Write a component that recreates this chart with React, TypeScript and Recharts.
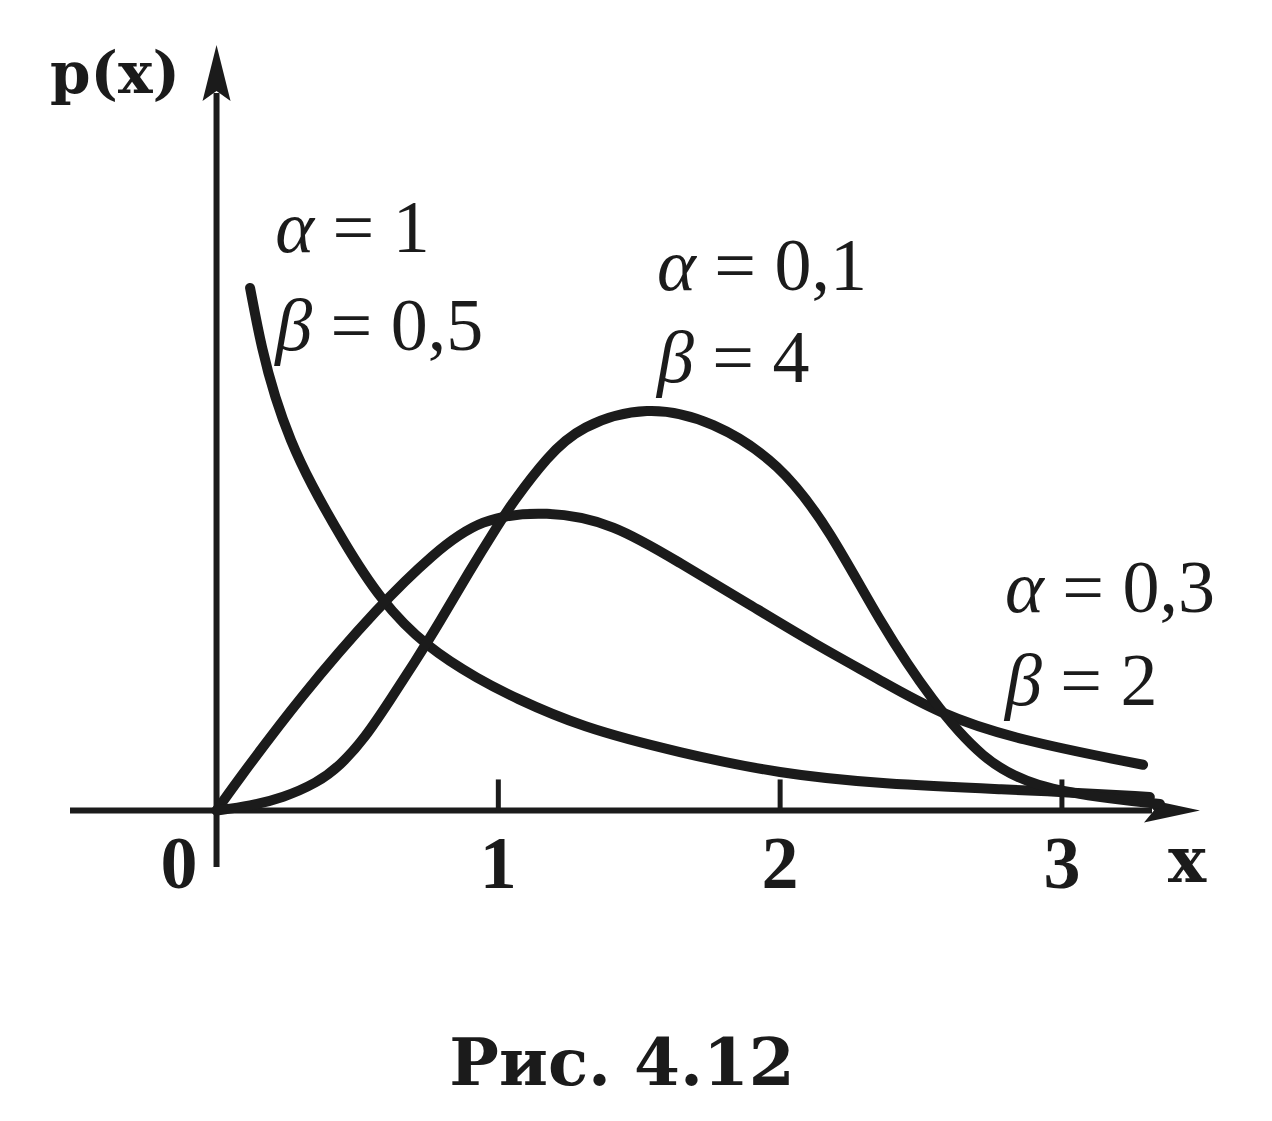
import React from 'react';
import { LineChart, Line, XAxis, YAxis, ReferenceLine, ReferenceDot } from 'recharts';

// Curve α = 1, β = 0,5
const curveAX = [0.119, 0.161, 0.208, 0.261, 0.332, 0.449, 0.58, 0.747, 0.935, 1.052, 1.29, 1.645, 1.999, 2.355, 2.84, 2.993, 3.312];
const curveAY = [1.85, 1.63, 1.46, 1.312, 1.16, 0.954, 0.746, 0.576, 0.462, 0.402, 0.296, 0.204, 0.13, 0.094, 0.073, 0.066, 0.048];

// Curve α = 0,3, β = 2
const curveBX = [0, 0.059, 0.296, 0.58, 0.768, 0.935, 1.173, 1.407, 1.645, 1.882, 2.116, 2.355, 2.557, 2.84, 3.288];
const curveBY = [0, 0.084, 0.402, 0.728, 0.908, 1.036, 1.062, 1.018, 0.876, 0.735, 0.593, 0.462, 0.346, 0.25, 0.162];

// Curve α = 0,1, β = 4
const curveCX = [0, 0.119, 0.236, 0.357, 0.438, 0.527, 0.616, 0.704, 0.793, 0.889, 1.006, 1.052, 1.173, 1.29, 1.528, 1.762, 1.999, 2.177, 2.355, 2.543, 2.72, 2.897, 3.195, 3.348];
const curveCY = [0, 0.016, 0.045, 0.098, 0.158, 0.257, 0.391, 0.526, 0.668, 0.834, 1.022, 1.092, 1.252, 1.362, 1.436, 1.38, 1.23, 0.993, 0.664, 0.381, 0.179, 0.083, 0.038, 0.023];

const tickValues = [0, 1, 2, 3];
const tickLabels = ['0', '1', '2', '3'];

const alphaValues = ['1', '0,1', '0,3'];
const betaValues = ['0,5', '4', '2'];

const xDomain = [-0.52, 3.49];
const yDomain = [-1, 2.71];

// layout anchors (data coordinates) for text
const paramAnchorsX = [0.208, 1.563, 2.798];
const alphaAnchorsY = [1.977, 1.843, 0.703];
const betaAnchorsY = [1.63, 1.517, 0.374];
const tickLabelY = -0.274;
const zeroLabelShift = -0.133;

const INK = '#1b1b1b';
const SERIF = '"Liberation Serif", "Times New Roman", serif';
const BOLD_SERIF = '"DejaVu Serif", serif';

const toPoints = (xs: number[], ys: number[]) => xs.map((x, i) => ({ x, y: ys[i] }));
const dataA = toPoints(curveAX, curveAY);
const dataB = toPoints(curveBX, curveBY);
const dataC = toPoints(curveCX, curveCY);

const arrowRight = (props: any) => {
  const { x1, y1, x2 } = props;
  const tip = Math.max(x1, x2);
  const start = Math.min(x1, x2);
  const y = y1;
  const L = 56;
  const W = 12;
  return (
    <g>
      <line x1={start} y1={y} x2={tip - L + 8} y2={y} stroke={INK} strokeWidth={6} />
      <path d={`M${tip},${y} L${tip - L},${y - W} L${tip - L + 10},${y} L${tip - L},${y + W} Z`} fill={INK} />
    </g>
  );
};

const arrowUp = (props: any) => {
  const { x1, y1, y2 } = props;
  const tip = Math.min(y1, y2);
  const start = Math.max(y1, y2);
  const x = x1;
  const L = 56;
  const W = 14;
  return (
    <g>
      <line x1={x} y1={start} x2={x} y2={tip + L - 8} stroke={INK} strokeWidth={6} />
      <path d={`M${x},${tip} L${x - W},${tip + L} L${x},${tip + L - 10} L${x + W},${tip + L} Z`} fill={INK} />
    </g>
  );
};

const plainLine = (props: any) => (
  <line x1={props.x1} y1={props.y1} x2={props.x2} y2={props.y2} stroke={INK} strokeWidth={5} />
);

export default function App() {
  return (
    <div style={{ width: 1256, height: 1100 }}>
      <LineChart width={1256} height={1100} margin={{ top: 37, right: 64, left: 62, bottom: 15 }}>
        <XAxis dataKey="x" type="number" domain={xDomain} allowDataOverflow hide />
        <YAxis type="number" domain={yDomain} allowDataOverflow hide />

        <ReferenceLine segment={[{ x: xDomain[0], y: 0 }, { x: xDomain[1], y: 0 }]} shape={arrowRight} ifOverflow="visible" />
        <ReferenceLine segment={[{ x: 0, y: -0.2 }, { x: 0, y: yDomain[1] }]} shape={arrowUp} ifOverflow="visible" />
        {tickValues.slice(1).map((v) => (
          <ReferenceLine key={'t' + v} segment={[{ x: v, y: 0 }, { x: v, y: 0.11 }]} shape={plainLine} ifOverflow="visible" />
        ))}

        <Line data={dataA} dataKey="y" type="basis" stroke={INK} strokeWidth={10} strokeLinecap="round" dot={false} activeDot={false} isAnimationActive={false} />
        <Line data={dataB} dataKey="y" type="basis" stroke={INK} strokeWidth={10} strokeLinecap="round" dot={false} activeDot={false} isAnimationActive={false} />
        <Line data={dataC} dataKey="y" type="basis" stroke={INK} strokeWidth={10} strokeLinecap="round" dot={false} activeDot={false} isAnimationActive={false} />

        {tickValues.map((v, i) => (
          <ReferenceDot
            key={'l' + v}
            x={v === 0 ? zeroLabelShift : v}
            y={tickLabelY}
            r={0}
            ifOverflow="visible"
            shape={(p: any) => (
              <text x={p.cx} y={p.cy} textAnchor="middle" fontFamily={SERIF} fontWeight="bold" fontSize={74} fill={INK}>
                {tickLabels[i]}
              </text>
            )}
          />
        ))}

        {alphaValues.map((a, i) => (
          <ReferenceDot
            key={'a' + i}
            x={paramAnchorsX[i]}
            y={alphaAnchorsY[i]}
            r={0}
            ifOverflow="visible"
            shape={(p: any) => (
              <text x={p.cx} y={p.cy} fontFamily={SERIF} fontSize={74} fill={INK} style={{ whiteSpace: 'pre' }}>
                <tspan fontStyle="italic">α</tspan>
                <tspan>{' = ' + a}</tspan>
              </text>
            )}
          />
        ))}
        {betaValues.map((b, i) => (
          <ReferenceDot
            key={'b' + i}
            x={paramAnchorsX[i]}
            y={betaAnchorsY[i]}
            r={0}
            ifOverflow="visible"
            shape={(p: any) => (
              <text x={p.cx} y={p.cy} fontFamily={SERIF} fontSize={74} fill={INK} style={{ whiteSpace: 'pre' }}>
                <tspan fontStyle="italic">β</tspan>
                <tspan>{' = ' + b}</tspan>
              </text>
            )}
          />
        ))}

        <ReferenceDot
          x={-0.591}
          y={2.54}
          r={0}
          ifOverflow="visible"
          shape={(p: any) => (
            <text x={p.cx} y={p.cy} fontFamily={BOLD_SERIF} fontWeight="bold" fontSize={58} fill={INK}>p(x)</text>
          )}
        />
        <ReferenceDot
          x={3.444}
          y={-0.253}
          r={0}
          ifOverflow="visible"
          shape={(p: any) => (
            <text x={p.cx} y={p.cy} textAnchor="middle" fontFamily={BOLD_SERIF} fontWeight="bold" fontSize={64} fill={INK}>x</text>
          )}
        />
        <ReferenceDot
          x={1.439}
          y={-0.971}
          r={0}
          ifOverflow="visible"
          shape={(p: any) => (
            <text x={p.cx} y={p.cy} textAnchor="middle" fontFamily={BOLD_SERIF} fontWeight="bold" fontSize={66} fill={INK}>Рис. 4.12</text>
          )}
        />
      </LineChart>
    </div>
  );
}
